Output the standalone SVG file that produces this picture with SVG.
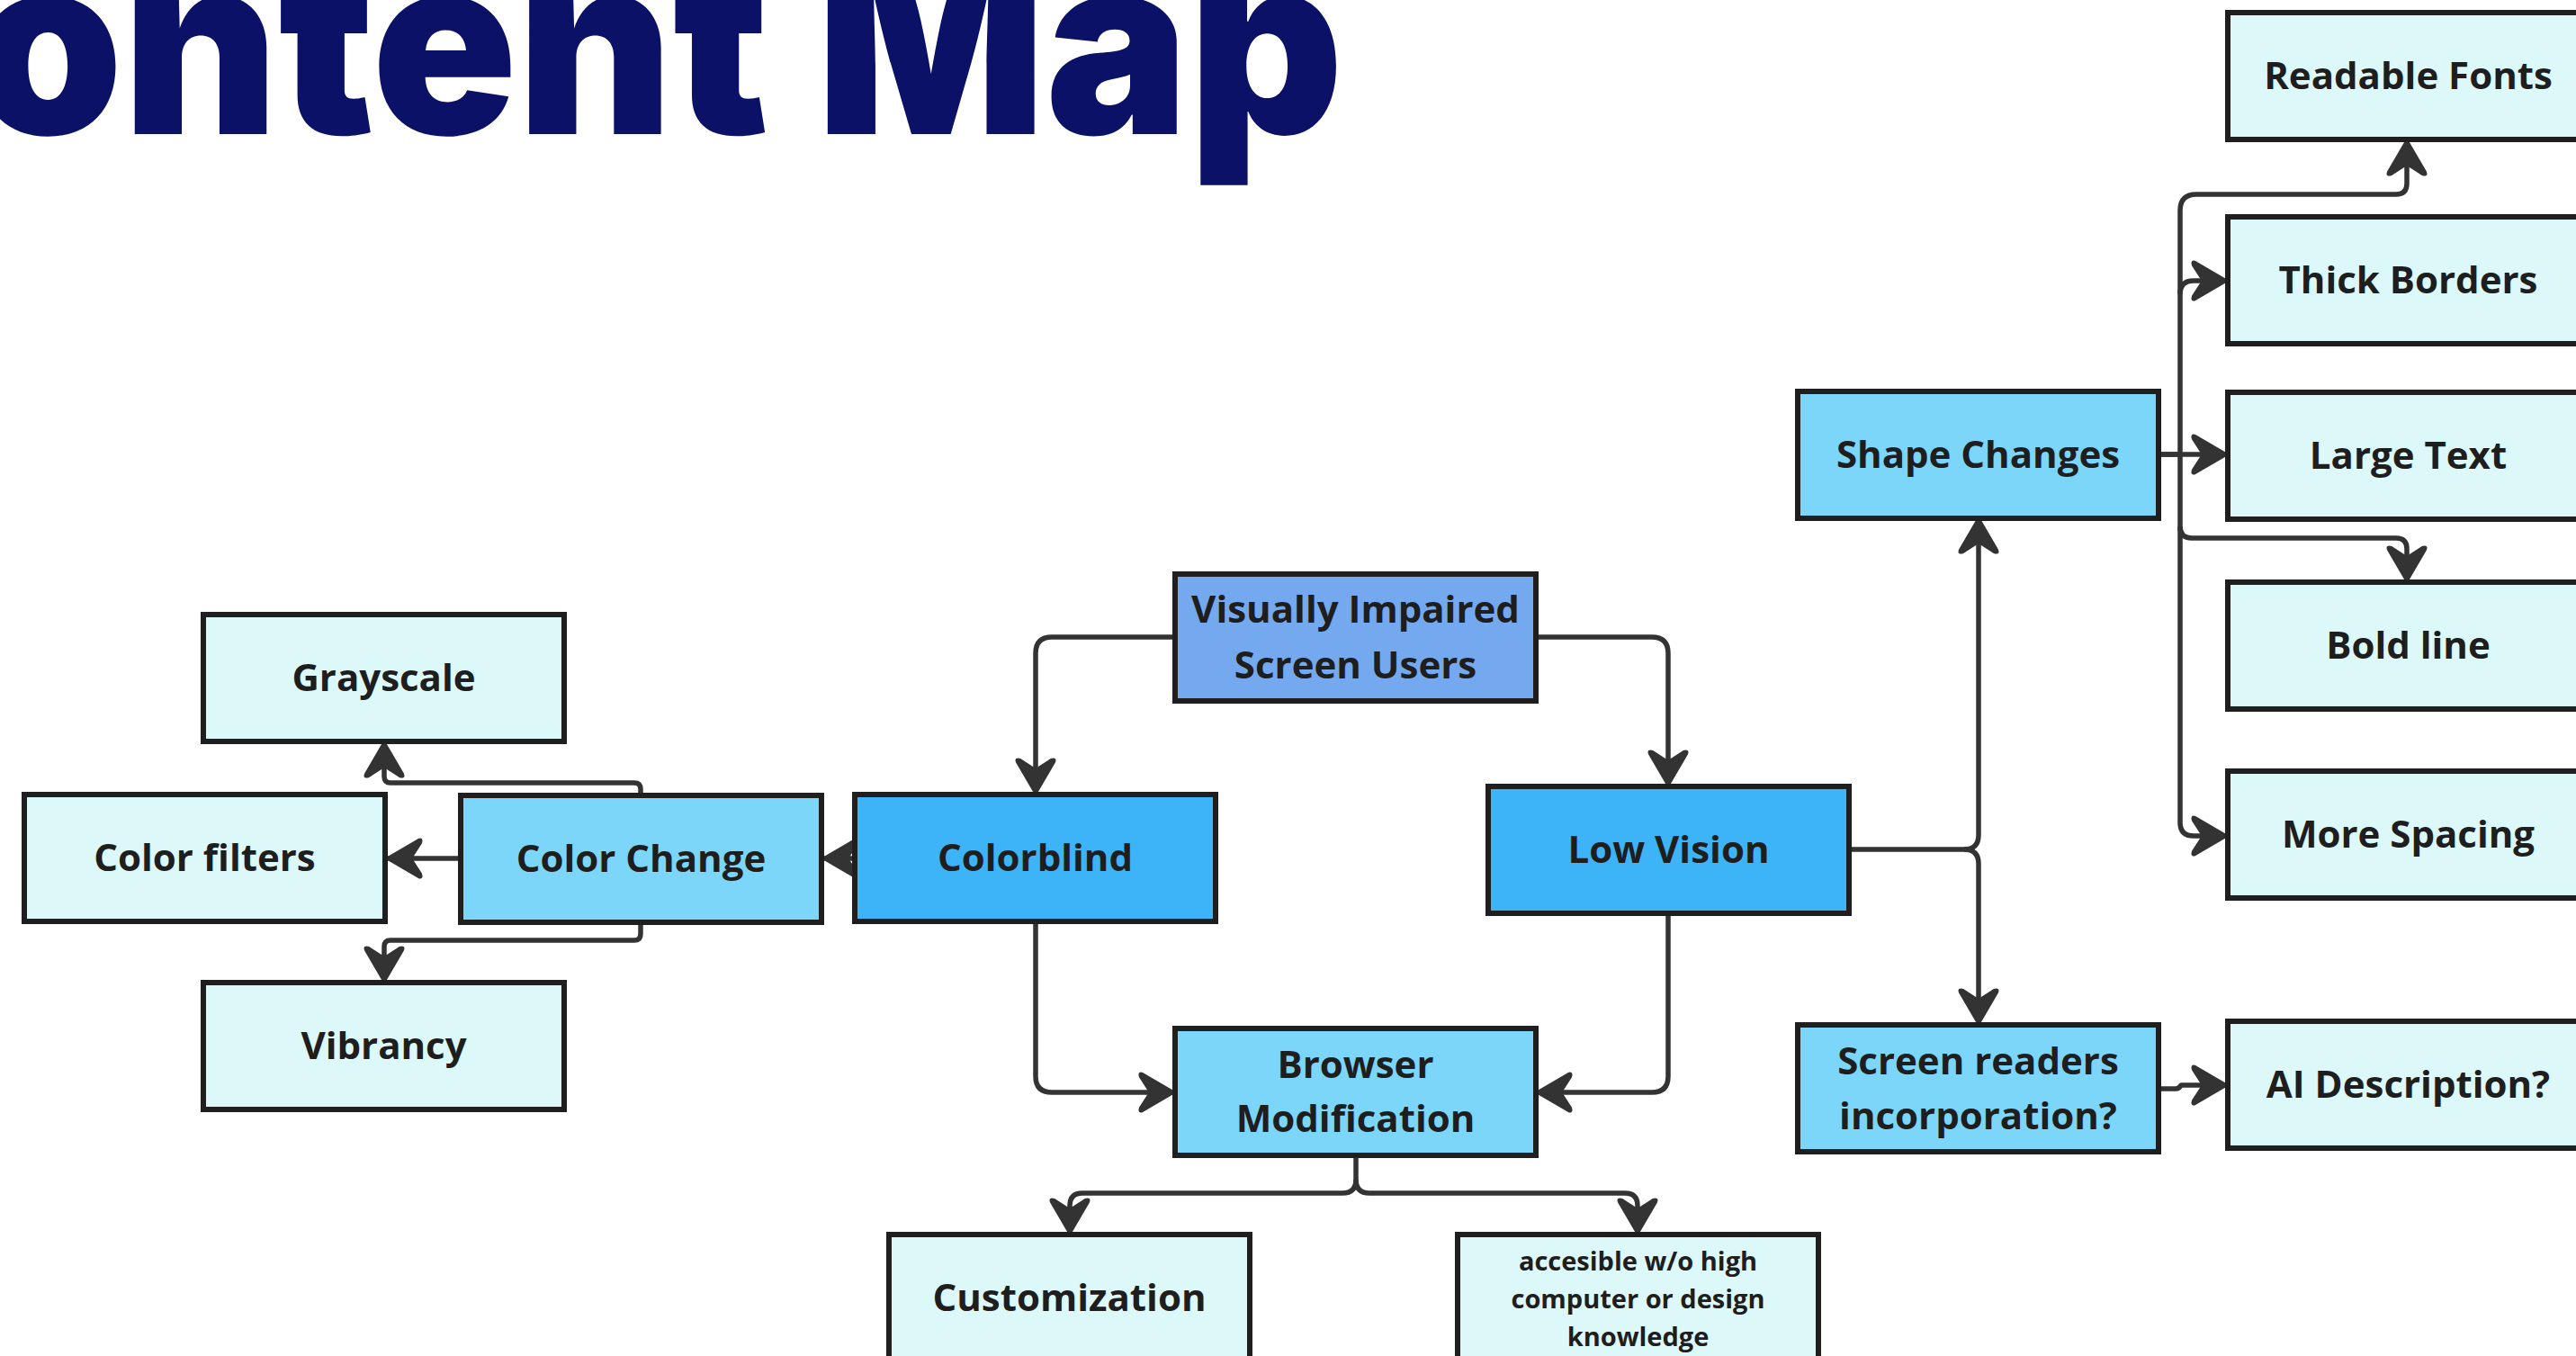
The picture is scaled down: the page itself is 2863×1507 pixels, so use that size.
<svg xmlns="http://www.w3.org/2000/svg" width="2863" height="1507" viewBox="0 0 2863 1507">
<style>
.box{stroke:#1f1f1f;stroke-width:6}
.pale{fill:#dcf8f9}
.sky{fill:#7bd6fa}
.blue{fill:#3db4f8}
.root{fill:#75a9ef}
.lbl{font-family:"Open Sans","Noto Sans",sans-serif;font-weight:700;font-size:42px;fill:#1e1e1e;text-anchor:middle}
.sm{font-size:29px}
.conn path{fill:none;stroke:#333;stroke-width:5.5;stroke-linejoin:round}
.title{font-family:Inter,"Noto Sans",sans-serif;font-weight:900;font-size:278px;fill:#0b1166}
</style>
<defs>
<marker id="ah" markerUnits="userSpaceOnUse" viewBox="-42 -26 44 52" markerWidth="44" markerHeight="52" refX="0" refY="0" orient="auto">
<path d="M0,0 L-36,-21 Q-41,-23 -39,-17 L-28,0 L-39,17 Q-41,23 -36,21 Z" fill="#333" stroke="#333" stroke-width="2" stroke-linejoin="round"/>
</marker>
</defs>
<rect width="2863" height="1507" fill="#ffffff"/>
<text class="title" x="-30" y="149" textLength="1523" lengthAdjust="spacingAndGlyphs">ontent Map</text>

<g id="connectors" class="conn">
<path d="M1306,708 H1169 Q1151,708 1151,726 V883" marker-end="url(#ah)"/>
<path d="M1707,708 H1836 Q1854,708 1854,726 V874" marker-end="url(#ah)"/>
<path d="M1151,1024 V1196 Q1151,1214 1169,1214 H1306" marker-end="url(#ah)"/>
<path d="M1854,1014 V1196 Q1854,1214 1836,1214 H1707" marker-end="url(#ah)"/>
<path d="M950,954 H914" marker-end="url(#ah)"/>
<path d="M512,954 H429" marker-end="url(#ah)"/>
<path d="M712,884 V877 Q712,870 705,870 H434 Q427,870 427,863 V824" marker-end="url(#ah)"/>
<path d="M712,1024 V1038 Q712,1045 705,1045 H434 Q427,1045 427,1052 V1092" marker-end="url(#ah)"/>
<path d="M1507,1284 V1311 Q1507,1326 1492,1326 H1203 Q1189,1326 1189,1340 V1372" marker-end="url(#ah)"/>
<path d="M1507,1311 Q1507,1326 1522,1326 H1806 Q1820,1326 1820,1340 V1372" marker-end="url(#ah)"/>
<path d="M2055,944 H2183 Q2199,944 2199,928 V575" marker-end="url(#ah)"/>
<path d="M2183,944 Q2199,944 2199,960 V1139" marker-end="url(#ah)"/>
<path d="M2400,505 H2423 V234 Q2423,216 2441,216 H2663 Q2675,216 2675,204 V155" marker-end="url(#ah)"/>
<path d="M2423,327 Q2423,312 2438,312 H2476" marker-end="url(#ah)"/>
<path d="M2400,505 H2476" marker-end="url(#ah)"/>
<path d="M2423,505 V585 Q2423,598 2436,598 H2663 Q2675,598 2675,610 V647" marker-end="url(#ah)"/>
<path d="M2423,585 V914 Q2423,929 2438,929 H2476" marker-end="url(#ah)"/>
<path d="M2400,1210 H2418 Q2422,1210 2424,1206 H2476" marker-end="url(#ah)"/>
</g>

<g id="vi"><rect class="box root" x="1306" y="638" width="401" height="141"/><text class="lbl" x="1506.5" y="692">Visually Impaired</text><text class="lbl" x="1506.5" y="754">Screen Users</text></g>
<g id="colorblind"><rect class="box blue" x="950" y="883" width="401" height="141"/><text class="lbl" x="1150.5" y="968">Colorblind</text></g>
<g id="lowvision"><rect class="box blue" x="1654" y="874" width="401" height="141"/><text class="lbl" x="1854.5" y="959">Low Vision</text></g>
<g id="browser"><rect class="box sky" x="1306" y="1143" width="401" height="141"/><text class="lbl" x="1506.5" y="1198">Browser</text><text class="lbl" x="1506.5" y="1258">Modification</text></g>
<g id="colorchange"><rect class="box sky" x="512" y="884" width="401" height="141"/><text class="lbl" x="712.5" y="969">Color Change</text></g>
<g id="grayscale"><rect class="box pale" x="226" y="683" width="401" height="141"/><text class="lbl" x="426.5" y="768">Grayscale</text></g>
<g id="colorfilters"><rect class="box pale" x="27" y="883" width="401" height="141"/><text class="lbl" x="227.5" y="968">Color filters</text></g>
<g id="vibrancy"><rect class="box pale" x="226" y="1092" width="401" height="141"/><text class="lbl" x="426.5" y="1177">Vibrancy</text></g>
<g id="customization"><rect class="box pale" x="988" y="1372" width="401" height="141"/><text class="lbl" x="1188.5" y="1457">Customization</text></g>
<g id="accesible"><rect class="box pale" x="1620" y="1372" width="401" height="141"/><text class="lbl sm" x="1820.5" y="1412">accesible w/o high</text><text class="lbl sm" x="1820.5" y="1454">computer or design</text><text class="lbl sm" x="1820.5" y="1496">knowledge</text></g>
<g id="shapechanges"><rect class="box sky" x="1998" y="435" width="401" height="141"/><text class="lbl" x="2198.5" y="520">Shape Changes</text></g>
<g id="screenreaders"><rect class="box sky" x="1998" y="1139" width="401" height="141"/><text class="lbl" x="2198.5" y="1194">Screen readers</text><text class="lbl" x="2198.5" y="1255">incorporation?</text></g>
<g id="readablefonts"><rect class="box pale" x="2476" y="14" width="401" height="141"/><text class="lbl" x="2676.5" y="99">Readable Fonts</text></g>
<g id="thickborders"><rect class="box pale" x="2476" y="241" width="401" height="141"/><text class="lbl" x="2676.5" y="326">Thick Borders</text></g>
<g id="largetext"><rect class="box pale" x="2476" y="436" width="401" height="141"/><text class="lbl" x="2676.5" y="521">Large Text</text></g>
<g id="boldline"><rect class="box pale" x="2476" y="647" width="401" height="141"/><text class="lbl" x="2676.5" y="732">Bold line</text></g>
<g id="morespacing"><rect class="box pale" x="2476" y="857" width="401" height="141"/><text class="lbl" x="2676.5" y="942">More Spacing</text></g>
<g id="aidescription"><rect class="box pale" x="2476" y="1135" width="401" height="141"/><text class="lbl" x="2676.5" y="1220">AI Description?</text></g>
</svg>
